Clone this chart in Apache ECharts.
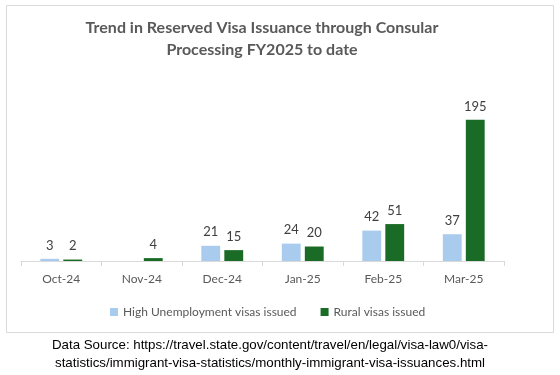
<!DOCTYPE html>
<html>
<head>
<meta charset="utf-8">
<script src="https://cdn.jsdelivr.net/npm/echarts@6/dist/echarts.min.js"></script>
<style>
  html, body { margin: 0; padding: 0; background: #fff; }
  #main { width: 560px; height: 375px; }
</style>
</head>
<body>
<div id="main"></div>
<script>
var months = ['Oct-24', 'Nov-24', 'Dec-24', 'Jan-25', 'Feb-25', 'Mar-25'];
var highUnemployment = [3, null, 21, 24, 42, 37];
var rural = [2, 4, 15, 20, 51, 195];

var myChart = echarts.init(document.getElementById('main'));

var labelStyle = {
  show: true,
  position: 'top',
  distance: 7,
  color: '#404040',
  fontSize: 13,
  fontFamily: 'Lato'
};

var option = {
  animation: false,
  graphic: [
    {
      type: 'rect',
      shape: { x: 6.5, y: 5.5, width: 547, height: 327 },
      style: { fill: 'none', stroke: '#d9d9d9', lineWidth: 1 },
      z: -1
    },
    {
      type: 'text',
      x: 262, y: 39,
      style: {
        text: 'Trend in Reserved Visa Issuance through Consular\nProcessing FY2025 to date',
        textAlign: 'center', textVerticalAlign: 'middle',
        font: 'bold 16px Lato', fill: '#595959', lineHeight: 22
      }
    },
    {
      type: 'text',
      x: 270, y: 354,
      style: {
        text: 'Data Source: https://travel.state.gov/content/travel/en/legal/visa-law0/visa-\nstatistics/immigrant-visa-statistics/monthly-immigrant-visa-issuances.html',
        textAlign: 'center', textVerticalAlign: 'middle',
        font: '13.3px "Liberation Sans"', fill: '#000', lineHeight: 18
      }
    }
  ],
  legend: {
    left: 105,
    top: 301,
    itemWidth: 8,
    itemHeight: 8,
    itemGap: 24,
    icon: 'rect',
    textStyle: { color: '#595959', fontSize: 12, fontFamily: 'Lato' },
    data: ['High Unemployment visas issued', 'Rural visas issued']
  },
  grid: { left: 21, right: 56, top: 80, bottom: 114 },
  xAxis: {
    type: 'category',
    data: months,
    axisLine: { lineStyle: { color: '#d9d9d9' } },
    axisTick: { show: true, length: 5, lineStyle: { color: '#d9d9d9' } },
    axisLabel: { color: '#595959', fontSize: 12, fontFamily: 'Lato', margin: 12 }
  },
  yAxis: {
    type: 'value',
    min: 0,
    max: 250,
    show: false
  },
  series: [
    {
      name: 'High Unemployment visas issued',
      type: 'bar',
      data: highUnemployment,
      itemStyle: { color: '#A9CCEE' },
      barGap: '22%',
      barCategoryGap: '48%',
      label: labelStyle
    },
    {
      name: 'Rural visas issued',
      type: 'bar',
      data: rural,
      itemStyle: { color: '#1A6B25' },
      label: labelStyle
    }
  ]
};

option && myChart.setOption(option);
</script>
</body>
</html>
